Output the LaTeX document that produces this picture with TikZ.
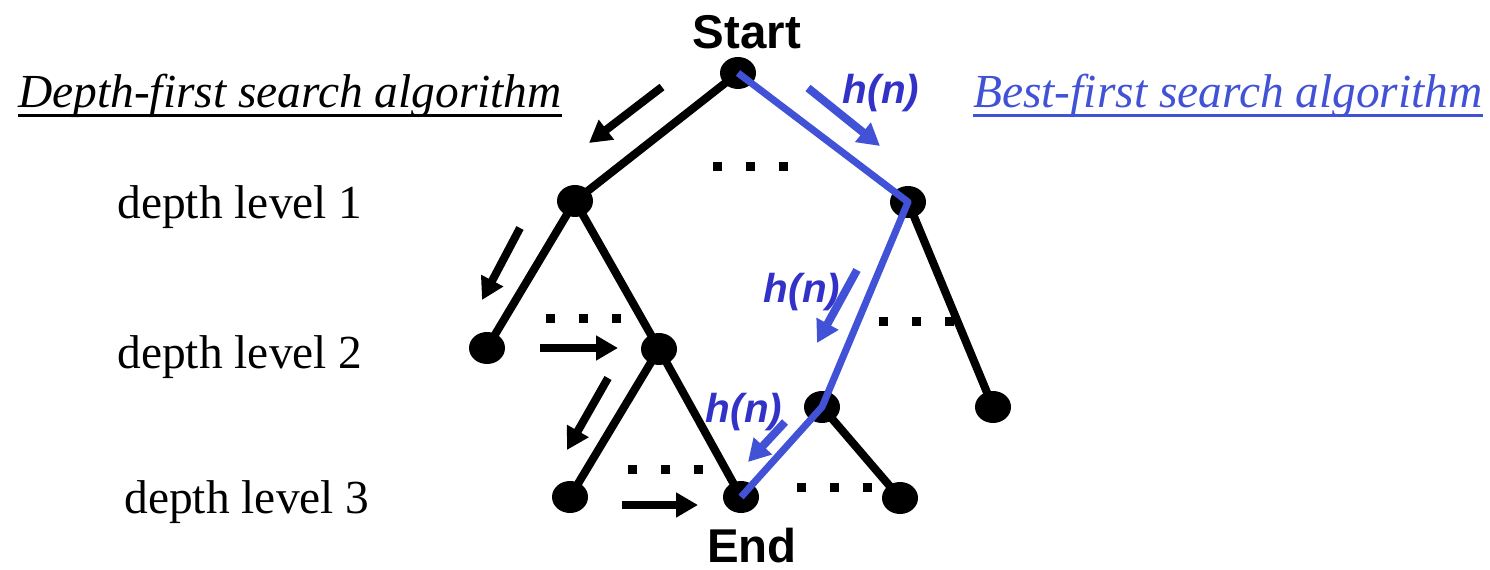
\documentclass[tikz,border=0pt]{standalone}
\usepackage{fontspec}
\setmainfont{Liberation Serif}
\setsansfont{Liberation Sans}
\usetikzlibrary{arrows.meta,shapes.geometric}
\definecolor{bfline}{RGB}{66,82,214}
\definecolor{bftext}{RGB}{50,50,200}
\tikzset{
  sr/.style={inner sep=0pt, font=\fontsize{27}{32}\selectfont},
  srtitle/.style={sr, font=\fontsize{27}{32}\selectfont\itshape, anchor=base},
  srlabel/.style={sr, font=\sffamily\bfseries\fontsize{27}{32}\selectfont},
  srhn/.style={sr, font=\sffamily\bfseries\itshape\fontsize{23}{28}\selectfont, text=bftext},
  srnode/.style={ellipse, fill=black, minimum width=0.72cm, minimum height=0.64cm, inner sep=0pt},
  sredge/.style={line width=4.6pt, draw=black},
  srpath/.style={line width=4pt, draw=bfline, line join=round},
  srarr/.style={-{Triangle[length=12.5pt,width=13.5pt]}, line width=4.6pt, draw=black},
  srbarr/.style={srarr, draw=bfline, fill=bfline},
  srul/.style={line width=1.7pt},
}

\begin{document}
\begin{tikzpicture}[x=0.02cm, y=-0.02cm]
  \useasboundingbox (0,0) rectangle (1490,570);

  % tree nodes
  \node[srnode] (s)   at (738,73)  {};
  \node[srnode] (a)   at (575,201) {};
  \node[srnode] (b)   at (908,202) {};
  \node[srnode] (aa)  at (487,348) {};
  \node[srnode] (ab)  at (659,349) {};
  \node[srnode] (ba)  at (822,407) {};
  \node[srnode] (bb)  at (993,407) {};
  \node[srnode] (aba) at (570,497) {};
  \node[srnode] (e)   at (741,497) {};
  \node[srnode] (bab) at (900,498) {};

  \draw[sredge] (s.center) -- (a.center);
  \draw[sredge] (a.center) -- (aa.center);
  \draw[sredge] (a.center) -- (ab.center);
  \draw[sredge] (ab.center) -- (aba.center);
  \draw[sredge] (ab.center) -- (e.center);
  \draw[sredge] (b.center) -- (bb.center);
  \draw[sredge] (ba.center) -- (bab.center);

  % best-first path
  \draw[srpath] (s.center) -- (b.center) -- (ba.center) -- (e.center);

  \node[srlabel] (start) at (747,32)  {Start};
  \node[srlabel] (end)   at (752,546) {End};

  % titles
  \node[srtitle] (dfs) at (290,108) {Depth-first search algorithm};
  \draw[srul] ([yshift=-4.5pt]dfs.base west) -- ([yshift=-4.5pt]dfs.base east);
  \node[srtitle, text=bfline] (bfs) at (1228,108) {Best-first search algorithm};
  \draw[srul, bfline] ([yshift=-4.5pt]bfs.base west) -- ([yshift=-4.5pt]bfs.base east);

  \node[sr] (lv1) at (240,207) {depth level 1};
  \node[sr] (lv2) at (240,357) {depth level 2};
  \node[sr] (lv3) at (247,502) {depth level 3};

  % dots
  \foreach \cx/\cy in {750/167, 583/319, 916/322, 665/469, 834/487}
    \foreach \k in {-1,0,1}
      \fill ({\cx+33*\k-4.5},{\cy-4.5}) rectangle ++(9,9);

  % depth-first arrows
  \coordinate (d1s) at (662,87);  \coordinate (d1e) at (589,143);
  \coordinate (d2s) at (520,228); \coordinate (d2e) at (482,300);
  \coordinate (d3s) at (540,348); \coordinate (d3e) at (618,348);
  \coordinate (d4s) at (608,378); \coordinate (d4e) at (567,450);
  \coordinate (d5s) at (622,505); \coordinate (d5e) at (698,505);
  \draw[srarr] (d1s) -- (d1e);
  \draw[srarr] (d2s) -- (d2e);
  \draw[srarr] (d3s) -- (d3e);
  \draw[srarr] (d4s) -- (d4e);
  \draw[srarr] (d5s) -- (d5e);

  % best-first arrows
  \coordinate (h1s) at (808,88);  \coordinate (h1e) at (880,146);
  \coordinate (h2s) at (857,270); \coordinate (h2e) at (817,343);
  \coordinate (h3s) at (785,422); \coordinate (h3e) at (748,462);
  \draw[srbarr] (h1s) -- (h1e);
  \draw[srbarr] (h2s) -- (h2e);
  \draw[srbarr] (h3s) -- (h3e);

  \node[srhn] (hn1) at (881,93)  {h(n)};
  \node[srhn] (hn2) at (802,292) {h(n)};
  \node[srhn] (hn3) at (744,412) {h(n)};
\end{tikzpicture}
\end{document}
